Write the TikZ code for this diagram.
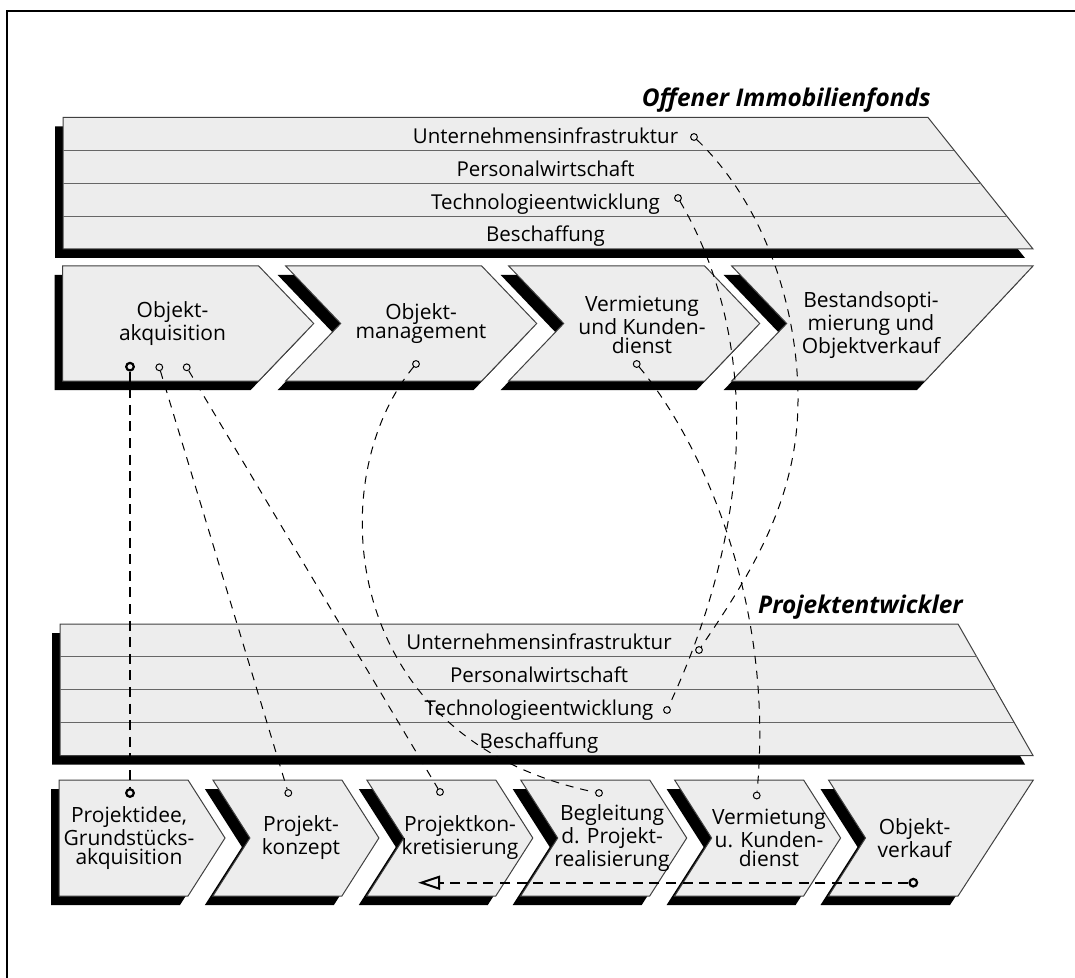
\documentclass[tikz,border=0pt]{standalone}
\usepackage{fontspec}
\setmainfont{Open Sans}
\usetikzlibrary{calc,arrows.meta}

\begin{document}
\begin{tikzpicture}[x=0.5pt,y=-0.5pt,
  % shapes given in pixel-like units, y pointing down
  band/.style n args={5}{insert path={(#1,#4) -- (#2,#4) -- (#3,#5) -- (#1,#5) -- cycle}},
  chev/.style n args={6}{insert path={(#1,#4) -- ({#1+#2},#4) -- ({#1+#2+#3},{(#4+#5)/2}) -- ({#1+#2},#5) -- (#1,#5) -- ({#1+#6},{(#4+#5)/2}) -- cycle}},
  lastchev/.style n args={6}{insert path={(#1,#4) -- (#2,#4) -- (#3,#5) -- (#1,#5) -- ({#1+#6},{(#4+#5)/2}) -- cycle}},
  shade/.style={fill=black, draw=none, shift={(-8,9)}},
  panel/.style={fill=black!7, draw=black!75, line width=0.5pt},
  divider/.style={draw=black!60, line width=0.6pt},
  rowlabel/.style={font=\fontsize{10.25pt}{12pt}\selectfont, anchor=base, inner sep=0pt},
  steplabel/.style={font=\fontsize{10.5pt}{9.5pt}\selectfont, align=center, inner sep=0pt},
  heading/.style={font=\fontsize{12.2pt}{14pt}\selectfont\bfseries\itshape, anchor=base east, inner sep=0pt},
  pin/.style={circle, draw=black, fill=black!7, line width=0.5pt, inner sep=0pt, minimum size=3.4pt},
  boldpin/.style={pin, line width=1.1pt, minimum size=3.8pt},
  link/.style={draw=black, line width=0.5pt, dash pattern=on 4pt off 3.5pt},
  boldlink/.style={draw=black, line width=1pt, dash pattern=on 5pt off 3.3pt}
]
\useasboundingbox (0,0) rectangle (1075,978);

% frame
\draw[line width=0.8pt] (7,978) -- (7,11) -- (1075,11);

% ---------- Offener Immobilienfonds ----------
\node[heading] (titleA) at (931,106.7) {Offener Immobilienfonds};

\path[shade, band={63}{928}{1033}{117.5}{249}];
\path[panel, band={63}{928}{1033}{117.5}{249}];
\foreach \k in {1,2,3}
  \draw[divider] (63,{117.5+\k*32.875}) -- ({928+\k*26.25},{117.5+\k*32.875});

\node[rowlabel] (aInfra) at (545.5,143.4) {Unternehmensinfrastruktur};
\node[rowlabel] (aPers)  at (545.5,176.3) {Personalwirtschaft};
\node[rowlabel] (aTech)  at (545.5,209.2) {Technologieentwicklung};
\node[rowlabel] (aBesch) at (545.5,242.0) {Beschaffung};

% primary activities
\path[shade, chev={62.7}{196}{55}{266}{381}{0}];
\path[shade, chev={285.7}{196}{55}{266}{381}{55}];
\path[shade, chev={508.7}{196}{55}{266}{381}{55}];
\path[shade, lastchev={731.7}{1033}{925}{266}{381}{55}];
\path[panel, chev={62.7}{196}{55}{266}{381}{0}];
\path[panel, chev={285.7}{196}{55}{266}{381}{55}];
\path[panel, chev={508.7}{196}{55}{266}{381}{55}];
\path[panel, lastchev={731.7}{1033}{925}{266}{381}{55}];

\node[steplabel] (aS1) at (172.5,323.5) {Objekt-\\akquisition};
\node[steplabel] (aS2) at (421,323.5) {Objekt-\\management};
\node[steplabel] (aS3) at (642,325) {Vermietung\\und Kunden-\\dienst};
\node[steplabel] (aS4) at (871,325) {Bestandsopti-\\mierung und\\Objektverkauf};

% ---------- Projektentwickler ----------
\node[heading] (titleB) at (963,613) {Projektentwickler};

\path[shade, band={60}{958}{1033}{624}{755.5}];
\path[panel, band={60}{958}{1033}{624}{755.5}];
\foreach \k in {1,2,3}
  \draw[divider] (60,{624+\k*32.875}) -- ({958+\k*18.75},{624+\k*32.875});

\node[rowlabel] (bInfra) at (539,649.9) {Unternehmensinfrastruktur};
\node[rowlabel] (bPers)  at (539,682.8) {Personalwirtschaft};
\node[rowlabel] (bTech)  at (539,715.7) {Technologieentwicklung};
\node[rowlabel] (bBesch) at (539,748.6) {Beschaffung};

\path[shade, chev={59}{129}{37}{780}{896}{0}];
\path[shade, chev={212.9}{129}{37}{780}{896}{37}];
\path[shade, chev={366.8}{129}{37}{780}{896}{37}];
\path[shade, chev={520.7}{129}{37}{780}{896}{37}];
\path[shade, chev={674.6}{129}{37}{780}{896}{37}];
\path[shade, lastchev={828.5}{1033.3}{958}{780}{896}{37}];
\path[panel, chev={59}{129}{37}{780}{896}{0}];
\path[panel, chev={212.9}{129}{37}{780}{896}{37}];
\path[panel, chev={366.8}{129}{37}{780}{896}{37}];
\path[panel, chev={520.7}{129}{37}{780}{896}{37}];
\path[panel, chev={674.6}{129}{37}{780}{896}{37}];
\path[panel, lastchev={828.5}{1033.3}{958}{780}{896}{37}];

\node[steplabel] (bS1) at (129,838) {Projektidee,\\Grundstücks-\\akquisition};
\node[steplabel] (bS2) at (301,838) {Projekt-\\konzept};
\node[steplabel] (bS3) at (460,838) {Projektkon-\\kretisierung};
\node[steplabel] (bS4) at (612,838) {Begleitung\\d. Projekt-\\realisierung};
\node[steplabel] (bS5) at (769,838) {Vermietung\\u. Kunden-\\dienst};
\node[steplabel] (bS6) at (914.5,838) {Objekt-\\verkauf};

% ---------- connection points ----------
\node[pin] (hU) at (694,137) {};
\node[pin] (hT) at (678,198) {};
\node[boldpin] (pA) at (130,366.7) {};
\node[pin] (pB) at (159.3,367.3) {};
\node[pin] (pC) at (186.7,367.3) {};
\node[pin] (pD) at (416,364) {};
\node[pin] (pE) at (636.7,364) {};

\node[pin] (lU) at (699,650) {};
\node[pin] (lT) at (667,710) {};
\node[boldpin] (qA) at (130,793) {};
\node[pin] (qB) at (288.3,793) {};
\node[pin] (qC) at (440,792) {};
\node[pin] (qD) at (599,793) {};
\node[pin] (qE) at (756.7,795.5) {};
\node[boldpin] (qF) at (913.3,882.7) {};
\coordinate (arrowTip) at (418,882.7);
\coordinate (infraBend) at (798,400);

% ---------- connectors ----------
\draw[boldlink] (pA) -- (qA);
\draw[link] (pB) -- (qB);
\draw[link] (pC) -- (qC);
\draw[link] (pD) .. controls (320,480) and (340,740) .. (qD);
\draw[link] (pE) .. controls (700,440) and (775,600) .. (qE);
\draw[link] (hU) .. controls (760,200) and (798,300) .. (infraBend)
                 .. controls (798,500) and (750,575) .. (lU);
\draw[link] (hT) .. controls (750,320) and (765,500) .. (lT);
\draw[boldlink, -{Triangle[open, length=11pt, width=7pt]}] (qF) -- (arrowTip);
\end{tikzpicture}
\end{document}
